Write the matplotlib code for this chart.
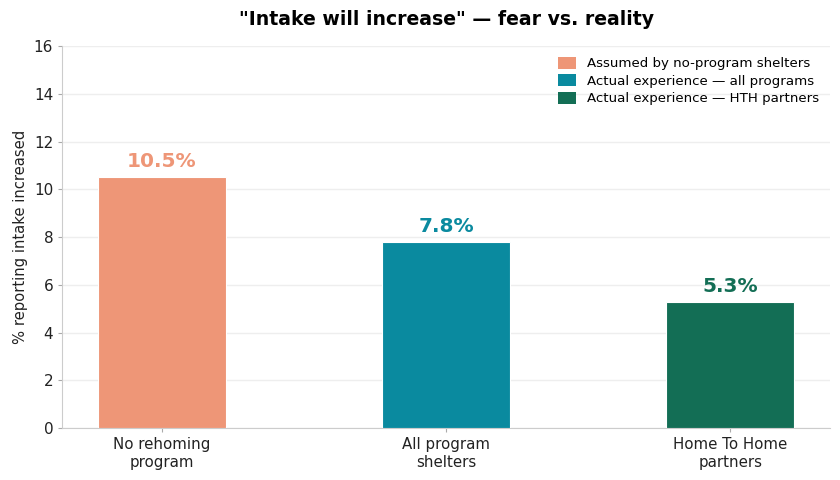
import matplotlib
matplotlib.use('Agg')
import matplotlib.pyplot as plt
from matplotlib.patches import Patch

# Data
categories = ['No rehoming\nprogram', 'All program\nshelters', 'Home To Home\npartners']
values = [10.5, 7.8, 5.3]
legend_labels = ['Assumed by no-program shelters',
                 'Actual experience \u2014 all programs',
                 'Actual experience \u2014 HTH partners']
colors = ['#EE9677', '#0A8A9F', '#136E55']

fig = plt.figure(figsize=(8.4, 4.8), dpi=100)
ax = fig.add_axes([0.074, 0.108, 0.914, 0.796])

x = range(len(categories))
ax.bar(x, values, width=0.45, color=colors, edgecolor='white', linewidth=0.8, zorder=3)

for xi, v, c in zip(x, values, colors):
    ax.text(xi, v + 0.25, f'{v}%', ha='center', va='bottom',
            fontsize=14.5, fontweight='bold', color=c)

ax.set_xlim(-0.35, 2.35)
ax.set_ylim(0, 16)
ax.set_yticks(range(0, 17, 2))
ax.set_xticks(list(x))
ax.set_xticklabels(categories, fontsize=10.8, color='#222222')
ax.tick_params(axis='y', labelsize=11, colors='#222222')
ax.tick_params(axis='both', color='#aaaaaa', length=3)
ax.set_ylabel('% reporting intake increased', fontsize=10.6, color='#222222')
ax.set_title('"Intake will increase" \u2014 fear vs. reality',
             fontsize=13.6, fontweight='bold', pad=15)

ax.grid(axis='y', color='#eeeeee', linewidth=1, zorder=0)
for side in ['top', 'right']:
    ax.spines[side].set_visible(False)
for side in ['left', 'bottom']:
    ax.spines[side].set_color('#cccccc')

handles = [Patch(facecolor=c, label=l) for c, l in zip(colors, legend_labels)]
ax.legend(handles=handles, loc='upper right', fontsize=9.6, frameon=False,
          handlelength=1.4, handleheight=1.0, labelspacing=0.3, borderaxespad=0.4)

fig.savefig('out.png', dpi=100)
